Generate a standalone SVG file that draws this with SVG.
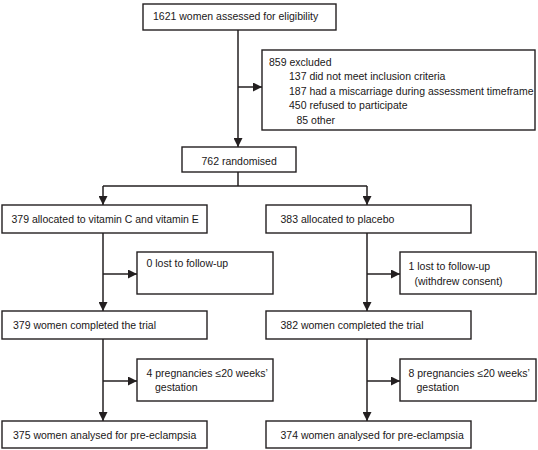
<svg xmlns="http://www.w3.org/2000/svg" width="538" height="450" viewBox="0 0 538 450">
<style>
.box{fill:#fff;stroke:#231f20;stroke-width:1.4}
.t{font-family:"Liberation Sans",Arial,sans-serif;font-size:10.5px;fill:#1a1718}
.c{fill:none;stroke:#231f20;stroke-width:1.5}
</style>
<defs>
<marker id="ah" viewBox="0 0 10 10" refX="10" refY="5" markerWidth="9" markerHeight="9" orient="auto" markerUnits="userSpaceOnUse">
<path d="M0,0 L10,5 L0,10 z" fill="#231f20"/>
</marker>
</defs>
<rect width="538" height="450" fill="#fff"/>
<g id="connectors">
<line class="c" x1="238" y1="30" x2="238" y2="147" marker-end="url(#ah)"/>
<line class="c" x1="238" y1="87" x2="262" y2="87" marker-end="url(#ah)"/>
<polyline class="c" points="238,172 238,186"/>
<line class="c" x1="103" y1="186" x2="367" y2="186"/>
<line class="c" x1="103" y1="186" x2="103" y2="205" marker-end="url(#ah)"/>
<line class="c" x1="367" y1="186" x2="367" y2="205" marker-end="url(#ah)"/>
<line class="c" x1="103" y1="233" x2="103" y2="311" marker-end="url(#ah)"/>
<line class="c" x1="103" y1="274" x2="137" y2="274" marker-end="url(#ah)"/>
<line class="c" x1="367" y1="233" x2="367" y2="311" marker-end="url(#ah)"/>
<line class="c" x1="367" y1="274" x2="400" y2="274" marker-end="url(#ah)"/>
<line class="c" x1="103" y1="339" x2="103" y2="421" marker-end="url(#ah)"/>
<line class="c" x1="103" y1="381" x2="137" y2="381" marker-end="url(#ah)"/>
<line class="c" x1="367" y1="339" x2="367" y2="421" marker-end="url(#ah)"/>
<line class="c" x1="367" y1="381" x2="400" y2="381" marker-end="url(#ah)"/>
</g>
<g id="assessed">
<rect class="box" x="143" y="4" width="193" height="26"/>
<text class="t" x="153" y="20">1621 women assessed for eligibility</text>
</g>
<g id="excluded">
<rect class="box" x="262" y="50" width="273" height="80"/>
<text class="t" x="269" y="66">859 excluded</text>
<text class="t" x="289" y="80">137 did not meet inclusion criteria</text>
<text class="t" x="289" y="94.5">187 had a miscarriage during assessment timeframe</text>
<text class="t" x="289" y="109">450 refused to participate</text>
<text class="t" x="296.5" y="123.5">85 other</text>
</g>
<g id="randomised">
<rect class="box" x="182" y="147" width="114" height="25"/>
<text class="t" x="201.5" y="164.5">762 randomised</text>
</g>
<g id="allocated-vit">
<rect class="box" x="2" y="205" width="205" height="28"/>
<text class="t" x="11.5" y="222.5">379 allocated to vitamin C and vitamin E</text>
</g>
<g id="allocated-placebo">
<rect class="box" x="266" y="205" width="205" height="28"/>
<text class="t" x="280.5" y="222.5">383 allocated to placebo</text>
</g>
<g id="lost-vit">
<rect class="box" x="137" y="252" width="136" height="42"/>
<text class="t" x="146.5" y="267">0 lost to follow-up</text>
</g>
<g id="lost-placebo">
<rect class="box" x="400" y="252" width="136" height="42"/>
<text class="t" x="408.5" y="269.5">1 lost to follow-up</text>
<text class="t" x="414.5" y="284.5">(withdrew consent)</text>
</g>
<g id="completed-vit">
<rect class="box" x="2" y="311" width="205" height="28"/>
<text class="t" x="13" y="329">379 women completed the trial</text>
</g>
<g id="completed-placebo">
<rect class="box" x="266" y="311" width="205" height="28"/>
<text class="t" x="280.5" y="329">382 women completed the trial</text>
</g>
<g id="preg-vit">
<rect class="box" x="137" y="359" width="136" height="42"/>
<text class="t" x="146.5" y="377">4 pregnancies ≤20 weeks’</text>
<text class="t" x="155" y="391">gestation</text>
</g>
<g id="preg-placebo">
<rect class="box" x="400" y="359" width="136" height="42"/>
<text class="t" x="408.5" y="377">8 pregnancies ≤20 weeks’</text>
<text class="t" x="416.5" y="391">gestation</text>
</g>
<g id="analysed-vit">
<rect class="box" x="2" y="421" width="205" height="27"/>
<text class="t" x="13" y="439">375 women analysed for pre-eclampsia</text>
</g>
<g id="analysed-placebo">
<rect class="box" x="266" y="421" width="205" height="27"/>
<text class="t" x="280.5" y="439">374 women analysed for pre-eclampsia</text>
</g>
</svg>
